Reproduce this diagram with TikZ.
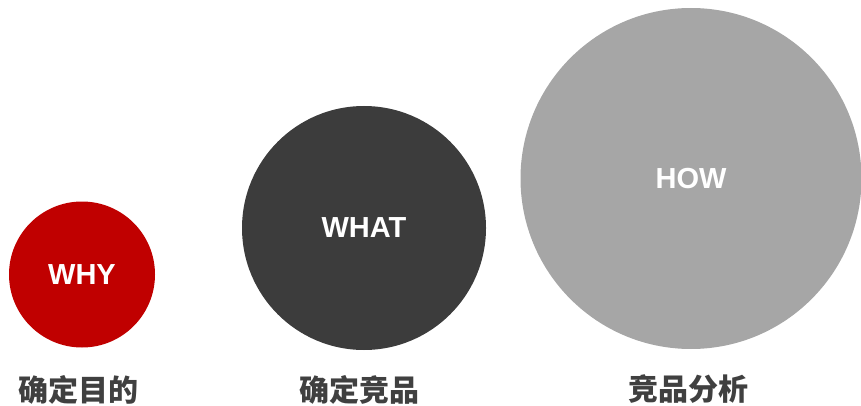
\documentclass[tikz,border=0pt]{standalone}
\usepackage{fontspec}
\setmainfont{Liberation Sans}
\newfontfamily\cjk{Noto Sans CJK SC}
\usepackage{tikz}
\usetikzlibrary{positioning}

\definecolor{whyred}{HTML}{C00000}
\definecolor{whatgray}{HTML}{3C3C3C}
\definecolor{howgray}{HTML}{A6A6A6}
\definecolor{capgray}{HTML}{404040}

\begin{document}
\begin{tikzpicture}[x=1pt, y=-1pt, every node/.style={inner sep=0pt, outer sep=0pt},
		ball/.style={circle, text=white, font=\bfseries\fontsize{29}{29}\selectfont},
		caption/.style={text=capgray, font=\cjk\bfseries\fontsize{30}{30}\selectfont}]

	\useasboundingbox (0,0) rectangle (861,406);

	\node [ball] (WHY) [fill=whyred, minimum size=146pt] at (82,274.5)
		{WHY};

	\node [ball] (WHAT) [fill=whatgray, minimum size=244pt] at (364,228)
		{WHAT};

	\node [ball] (HOW) [fill=howgray, minimum size=341pt] at (691,178.5)
		{HOW};

	\node [caption] (DP) at (78,389.5)
		{确定目的};

	\node [caption] (DC) at (359,389.5)
		{确定竞品};

	\node [caption] (CA) at (688,389.5)
		{竞品分析};

\end{tikzpicture}
\end{document}
